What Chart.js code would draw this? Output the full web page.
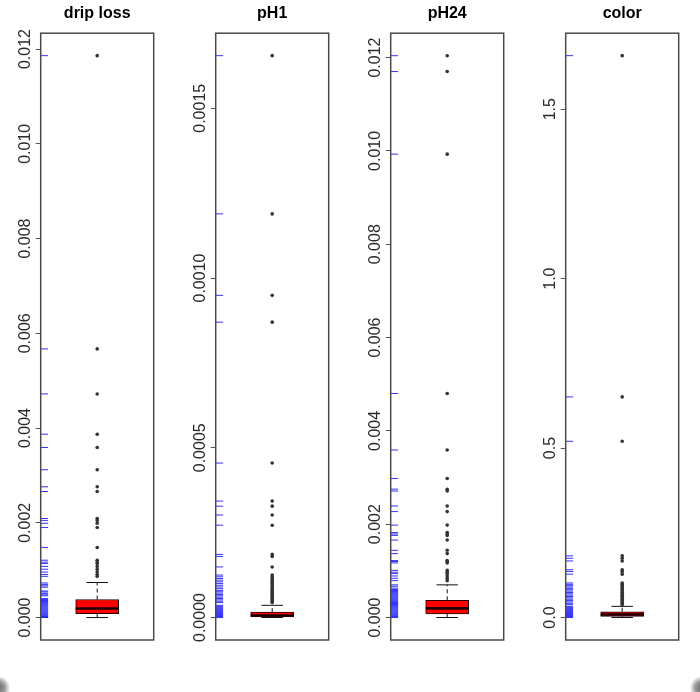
<!DOCTYPE html>
<html>
<head>
<meta charset="utf-8">
<script src="https://cdn.jsdelivr.net/npm/chart.js@4.4.1/dist/chart.umd.min.js"></script>
<style>
html, body { margin: 0; padding: 0; background: #fff; }
#wrap { position: relative; width: 700px; height: 692px; overflow: hidden; }
.panel { position: absolute; top: 0; width: 175px; height: 692px; }
.blob { position: absolute; top: 676px; width: 24px; height: 24px; border-radius: 50%;
        background: radial-gradient(circle, #666 0%, #999 40%, rgba(255,255,255,0) 72%); }
</style>
</head>
<body>
<div id="wrap">
  <div class="panel" style="left:0px"><canvas id="c0"></canvas></div>
  <div class="panel" style="left:175px"><canvas id="c1"></canvas></div>
  <div class="panel" style="left:350px"><canvas id="c2"></canvas></div>
  <div class="panel" style="left:525px"><canvas id="c3"></canvas></div>
  <div class="blob" style="left:-14px"></div>
  <div class="blob" style="left:690px"></div>
</div>
<script>
const titles = ['drip loss', 'pH1', 'pH24', 'color'];

const tickValues = [
    [0, 0.002, 0.004, 0.006, 0.008, 0.010, 0.012],
    [0, 0.0005, 0.0010, 0.0015],
    [0, 0.002, 0.004, 0.006, 0.008, 0.010, 0.012],
    [0, 0.5, 1.0, 1.5]
];
const tickLabels = [
    ['0.000', '0.002', '0.004', '0.006', '0.008', '0.010', '0.012'],
    ['0.0000', '0.0005', '0.0010', '0.0015'],
    ['0.000', '0.002', '0.004', '0.006', '0.008', '0.010', '0.012'],
    ['0.0', '0.5', '1.0', '1.5']
];
const yMin = [-0.000474, -0.0000662, -0.000482, -0.0663];
const yMax = [0.012334, 0.0017212, 0.012522, 1.7243];

// lower whisker, Q1, median, Q3, upper whisker
const boxStats = [
    [0, 0.00008, 0.00019, 0.00038, 0.00074],
    [0, 0.000002, 0.000006, 0.000016, 0.000036],
    [0, 0.000075, 0.000195, 0.00037, 0.0007],
    [0, 0.0035, 0.009, 0.017, 0.033]
];

const outliers = [
    [0.01186, 0.00567, 0.00472, 0.00387, 0.00359, 0.00312, 0.00276, 0.00266, 0.00209, 0.00205,
     0.00199, 0.0019, 0.00148, 0.00121, 0.00117, 0.00114, 0.00108, 0.00102, 0.00096, 0.00091, 0.00087],
    [0.001655, 0.001189, 0.000949, 0.00087, 0.000455, 0.000343, 0.000328, 0.000302, 0.000272,
     0.000186, 0.00018, 0.000149, 0.000125, 0.00012, 0.000115, 0.00011, 0.000105, 0.0001, 0.000095,
     0.00009, 0.000085, 0.00008, 0.000076, 0.000072, 0.000068, 0.000064, 0.00006, 0.000056,
     0.000052, 0.000048, 0.000044],
    [0.01204, 0.0117, 0.00993, 0.0048, 0.00359, 0.00298, 0.00275, 0.00271, 0.00239, 0.00227,
     0.00198, 0.00182, 0.00179, 0.00176, 0.00166, 0.00144, 0.00137, 0.00122, 0.0012, 0.00117,
     0.00101, 0.00097, 0.00094, 0.00089, 0.00084, 0.00079],
    [1.658, 0.651, 0.52, 0.182, 0.175, 0.167, 0.141, 0.136, 0.128, 0.102, 0.098, 0.094, 0.09,
     0.086, 0.082, 0.078, 0.074, 0.07, 0.066, 0.062, 0.058, 0.054, 0.05, 0.046, 0.042, 0.038]
];

// observations inside the whiskers (rug shows all observations)
const rugInner = [
    [0.00073, 0.0007, 0.00067, 0.00064, 0.00056, 0.00054, 0.00051, 0.00048, 0.00046, 0.0004,
     0.00038, 0.00036, 0.00034, 0.00032, 0.0003, 0.00028, 0.00026, 0.00024, 0.00022, 0.0002,
     0.00018, 0.00016, 0.00014, 0.00012, 0.0001, 0.00008, 0.00006, 0.00004, 0.00002, 0.00001, 0],
    [0.000036, 0.000033, 0.00003, 0.000027, 0.000024, 0.000021, 0.000018, 0.000015, 0.000012,
     0.000009, 0.000006, 0.000003, 0],
    [0.0007, 0.00067, 0.00063, 0.0006, 0.00058, 0.00056, 0.00054, 0.00052, 0.0005, 0.00048,
     0.00046, 0.00044, 0.00042, 0.0004, 0.00038, 0.00036, 0.00034, 0.00032, 0.0003, 0.00028,
     0.00026, 0.00024, 0.00022, 0.0002, 0.00018, 0.00016, 0.00014, 0.00012, 0.0001, 0.00008,
     0.00006, 0.00004, 0.00002, 0],
    [0.033, 0.03, 0.027, 0.024, 0.021, 0.018, 0.015, 0.012, 0.009, 0.006, 0.003, 0]
];

const BOX_X = 0.5;
const RUG_X = 0.033;
const FONT = '"Liberation Sans", Arial, Helvetica, sans-serif';

function boxPlugin(i) {
    return {
        id: 'boxExtras' + i,
        beforeDatasetsDraw(chart) {
            const ctx = chart.ctx, y = chart.scales.y, x = chart.scales.x;
            const bar = chart.getDatasetMeta(0).data[0];
            const cx = x.getPixelForValue(BOX_X);
            const capHalf = bar.width / 4;
            const s = boxStats[i];
            ctx.save();
            ctx.strokeStyle = '#111';
            ctx.lineWidth = 1;
            ctx.setLineDash([4, 3]);
            ctx.beginPath();
            ctx.moveTo(cx, y.getPixelForValue(s[3]));
            ctx.lineTo(cx, y.getPixelForValue(s[4]));
            ctx.moveTo(cx, y.getPixelForValue(s[1]));
            ctx.lineTo(cx, y.getPixelForValue(s[0]));
            ctx.stroke();
            ctx.setLineDash([]);
            ctx.beginPath();
            [s[0], s[4]].forEach(v => {
                const py = y.getPixelForValue(v);
                ctx.moveTo(cx - capHalf, py);
                ctx.lineTo(cx + capHalf, py);
            });
            ctx.stroke();
            ctx.restore();
        },
        afterDatasetsDraw(chart) {
            const ctx = chart.ctx, y = chart.scales.y, x = chart.scales.x;
            const bar = chart.getDatasetMeta(0).data[0];
            const cx = x.getPixelForValue(BOX_X);
            const half = bar.width / 2;
            const my = y.getPixelForValue(boxStats[i][2]);
            ctx.save();
            ctx.strokeStyle = '#1a0000';
            ctx.lineWidth = 2.6;
            ctx.beginPath();
            ctx.moveTo(cx - half, my);
            ctx.lineTo(cx + half, my);
            ctx.stroke();
            const a = chart.chartArea;
            ctx.strokeStyle = '#4a4a4a';
            ctx.lineWidth = 1.5;
            ctx.strokeRect(a.left, a.top, a.right - a.left, a.bottom - a.top);
            ctx.restore();
        },
        afterDraw(chart) {
            const ctx = chart.ctx, y = chart.scales.y;
            ctx.save();
            ctx.font = '16px ' + FONT;
            ctx.fillStyle = '#2a2a2a';
            ctx.textAlign = 'center';
            ctx.textBaseline = 'alphabetic';
            y.ticks.forEach((t, k) => {
                ctx.save();
                ctx.translate(chart.chartArea.left - 11, y.getPixelForValue(t.value));
                ctx.rotate(-Math.PI / 2);
                ctx.fillText(tickLabels[i][k], 0, 0);
                ctx.restore();
            });
            ctx.restore();
        }
    };
}

function drawPanel(i) {
    const rug = outliers[i].concat(rugInner[i]);
    new Chart(document.getElementById('c' + i), {
        type: 'bar',
        data: {
            datasets: [{
                type: 'bar',
                data: [{ x: BOX_X, y: [boxStats[i][1], boxStats[i][3]] }],
                backgroundColor: '#ff0000',
                borderColor: '#220000',
                borderWidth: 1,
                borderSkipped: false,
                barThickness: 43,
                order: 2
            }, {
                type: 'scatter',
                data: outliers[i].map(v => ({ x: BOX_X, y: v })),
                pointRadius: 1.8,
                pointBackgroundColor: '#333',
                pointBorderWidth: 0,
                order: 1
            }, {
                type: 'scatter',
                data: rug.map(v => ({ x: RUG_X, y: v })),
                pointStyle: 'line',
                pointRadius: 3.7,
                pointBorderColor: 'rgba(0,0,255,0.8)',
                pointBorderWidth: 1,
                order: 3
            }]
        },
        options: {
            responsive: true,
            maintainAspectRatio: false,
            animation: false,
            events: [],
            layout: { padding: { left: 0, right: 21.3, top: 0, bottom: 52 } },
            plugins: {
                legend: { display: false },
                tooltip: { enabled: false },
                title: {
                    display: true,
                    text: titles[i],
                    fullSize: false,
                    color: '#000',
                    font: { family: FONT, size: 16, weight: 'bold' },
                    padding: { top: 4, bottom: 10 }
                }
            },
            scales: {
                x: { type: 'linear', min: 0, max: 1, offset: false, display: false },
                y: {
                    type: 'linear',
                    min: yMin[i],
                    max: yMax[i],
                    afterBuildTicks: scale => { scale.ticks = tickValues[i].map(v => ({ value: v })); },
                    afterFit: scale => { scale.width = 40.7; },
                    ticks: { display: false },
                    border: { display: false },
                    grid: { drawOnChartArea: false, drawTicks: true, tickLength: 5, color: '#555' }
                }
            }
        },
        plugins: [boxPlugin(i)]
    });
}

for (let i = 0; i < 4; i++) drawPanel(i);
</script>
</body>
</html>
